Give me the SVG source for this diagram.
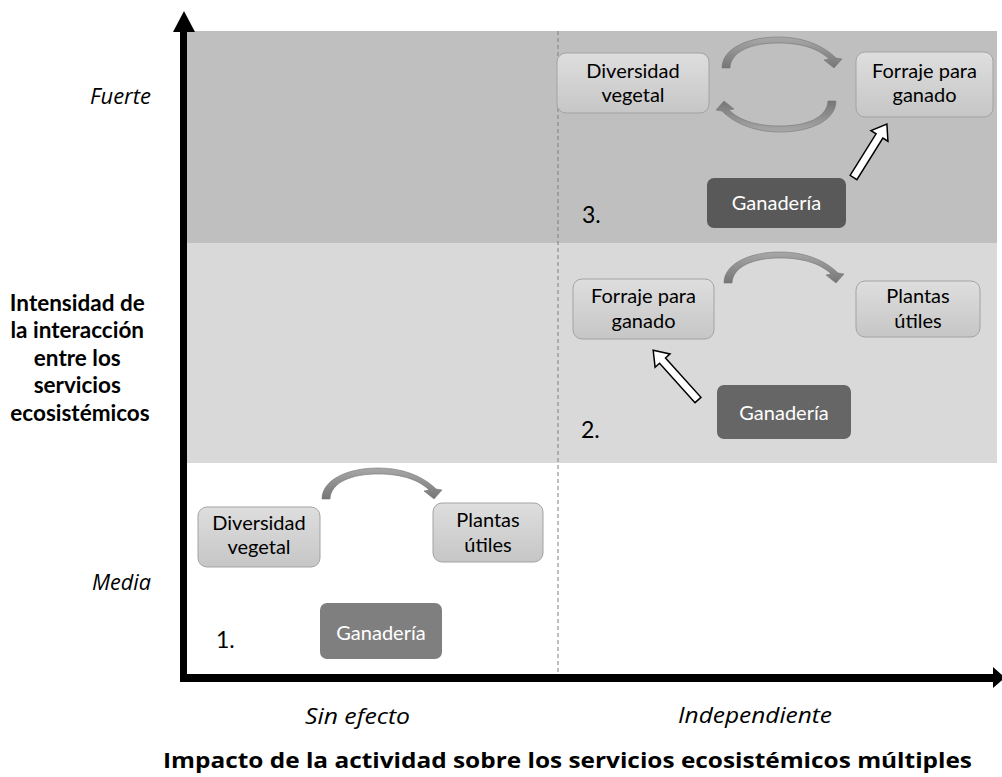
<svg xmlns="http://www.w3.org/2000/svg" width="1002" height="777" viewBox="0 0 1002 777">
<defs>
<linearGradient id="boxg" x1="0" y1="0" x2="0" y2="1">
<stop offset="0" stop-color="#dedede"/>
<stop offset="1" stop-color="#c6c6c6"/>
</linearGradient>
<linearGradient id="arcg" x1="0" y1="0" x2="0" y2="1">
<stop offset="0" stop-color="#a8a8a8"/>
<stop offset="1" stop-color="#767676"/>
</linearGradient>
<path id="arc" d="M0,0 C0,-19 25,-31 56,-31 C85,-31 104,-20 114,-10 L120,-9 L112,0 L102,-8 L107,-9 C98,-18 82,-25 56,-25 C30,-25 9,-17 8,0 Z"/>
</defs>
<style>
.t{font-family:Lato,"Liberation Sans",sans-serif;font-size:20px;fill:#000}
.o{font-family:"Open Sans","Noto Sans",sans-serif}
.box{fill:url(#boxg);stroke:#a3a3a3;stroke-width:1}
.gan{stroke:none}
.w{fill:#fff}
.it{font-style:italic}
.b{font-weight:bold}
.num{font-size:23px}
.ax{font-size:22.5px}
.arc{fill:url(#arcg);stroke:#777;stroke-width:0.6}
.blk{fill:#fff;stroke:#000;stroke-width:1.5;stroke-linejoin:miter}
</style>
<rect x="0" y="0" width="1002" height="777" fill="#fff"/>
<rect x="187" y="31" width="810" height="212" fill="#bfbfbf"/>
<rect x="187" y="243" width="810" height="220" fill="#d9d9d9"/>
<line x1="558" y1="31" x2="558" y2="675" stroke="#7f7f7f" stroke-width="1" stroke-dasharray="4,3"/>

<g id="axes">
<rect x="180" y="30" width="7" height="652" fill="#000"/>
<polygon points="173,32 195,32 184,11" fill="#000"/>
<rect x="180" y="674" width="815" height="8" fill="#000"/>
<polygon points="993,667 993,688 1005,677.5" fill="#000"/>
</g>

<g id="axis-labels">
<text class="t o it" style="font-size:21px" x="151" y="104" text-anchor="end" textLength="61" lengthAdjust="spacingAndGlyphs">Fuerte</text>
<text class="t o it" style="font-size:21px" x="151" y="590" text-anchor="end" textLength="59" lengthAdjust="spacingAndGlyphs">Media</text>
<text class="t b ax" text-anchor="middle">
<tspan x="80" y="311">Intensidad de</tspan>
<tspan x="80" y="338">la interacción</tspan>
<tspan x="80" y="366">entre los</tspan>
<tspan x="80" y="393">servicios</tspan>
<tspan x="80" y="421">ecosistémicos</tspan>
</text>
<text class="t o it" style="font-size:22px" x="305" y="724" textLength="105" lengthAdjust="spacingAndGlyphs">Sin efecto</text>
<text class="t o it" style="font-size:22px" x="678" y="723" textLength="154" lengthAdjust="spacingAndGlyphs">Independiente</text>
<text class="t o b" style="font-size:22px" x="163" y="768" textLength="809" lengthAdjust="spacingAndGlyphs">Impacto de la actividad sobre los servicios ecosistémicos múltiples</text>
</g>

<g id="panel3">
<text class="t num" x="582" y="223">3.</text>
<g id="n3-div"><rect class="box" x="557" y="53" width="152" height="60" rx="9"/>
<text class="t" text-anchor="middle"><tspan x="633" y="78">Diversidad</tspan><tspan x="633" y="102">vegetal</tspan></text></g>
<g id="n3-forr"><rect class="box" x="856" y="52" width="137" height="65" rx="9"/>
<text class="t" text-anchor="middle"><tspan x="924.5" y="78">Forraje para</tspan><tspan x="924.5" y="102">ganado</tspan></text></g>
<g id="n3-gan"><rect class="gan" x="707" y="178" width="139" height="50" rx="7" fill="#595959"/>
<text class="t w" x="776.5" y="210" text-anchor="middle">Ganadería</text></g>
</g>

<g id="panel2">
<text class="t num" x="581" y="438">2.</text>
<g id="n2-forr"><rect class="box" x="573" y="279" width="141" height="60" rx="9"/>
<text class="t" text-anchor="middle"><tspan x="643.5" y="303">Forraje para</tspan><tspan x="643.5" y="328">ganado</tspan></text></g>
<g id="n2-pl"><rect class="box" x="856" y="281" width="124" height="56" rx="9"/>
<text class="t" text-anchor="middle"><tspan x="918" y="303">Plantas</tspan><tspan x="918" y="328">útiles</tspan></text></g>
<g id="n2-gan"><rect class="gan" x="717" y="385" width="134" height="54" rx="7" fill="#666666"/>
<text class="t w" x="784" y="420" text-anchor="middle">Ganadería</text></g>
</g>

<g id="panel1">
<text class="t num" x="216" y="648">1.</text>
<g id="n1-div"><rect class="box" x="198" y="507" width="122" height="60" rx="9"/>
<text class="t" text-anchor="middle"><tspan x="259" y="530">Diversidad</tspan><tspan x="259" y="554">vegetal</tspan></text></g>
<g id="n1-pl"><rect class="box" x="433" y="503" width="110" height="59" rx="9"/>
<text class="t" text-anchor="middle"><tspan x="488" y="527">Plantas</tspan><tspan x="488" y="552">útiles</tspan></text></g>
<g id="n1-gan"><rect class="gan" x="320" y="603" width="122" height="56" rx="7" fill="#7f7f7f"/>
<text class="t w" x="381" y="640" text-anchor="middle">Ganadería</text></g>
</g>

<g id="connectors">
<use href="#arc" class="arc" transform="translate(722,68)"/>
<use href="#arc" class="arc" transform="translate(836,101) rotate(180)"/>
<use href="#arc" class="arc" transform="translate(724,283)"/>
<use href="#arc" class="arc" transform="translate(322,499)"/>
<path class="blk" transform="translate(853.5,177.5) rotate(-58)" d="M0,-4 L49,-4 L49,-10 L63,0 L49,10 L49,4 L0,4 Z"/>
<path class="blk" transform="translate(698,400) rotate(-132)" d="M0,-4 L53,-4 L53,-10 L67,0 L53,10 L53,4 L0,4 Z"/>
</g>
</svg>
